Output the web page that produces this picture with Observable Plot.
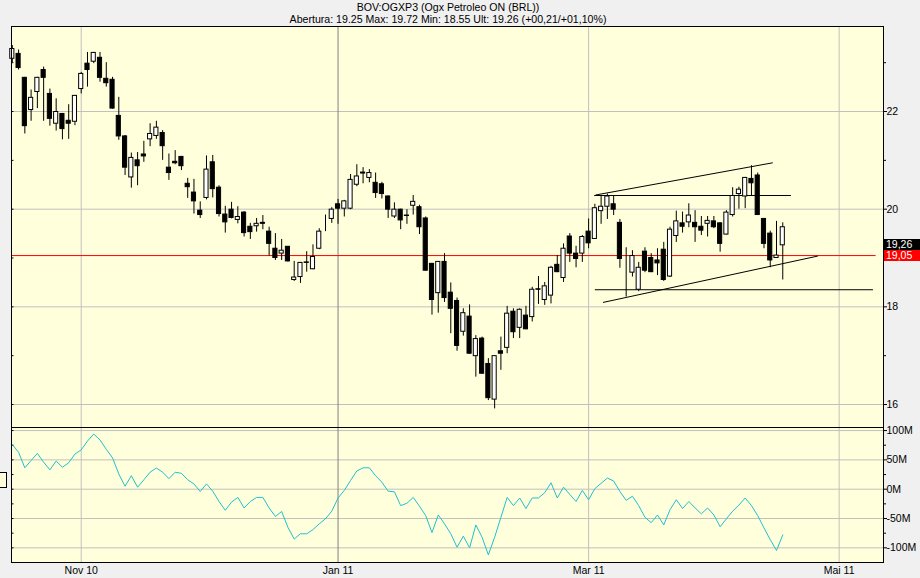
<!DOCTYPE html>
<html><head><meta charset="utf-8">
<script src="https://cdn.jsdelivr.net/npm/d3@7"></script>
<script src="https://cdn.jsdelivr.net/npm/@observablehq/plot@0.6"></script>
<style>
html,body{margin:0;padding:0;background:#f0f0f0;}
body{width:920px;height:578px;position:relative;overflow:hidden;font-family:"Liberation Sans",Arial,sans-serif;color:#000;}
.hdr{position:absolute;left:0;width:896px;text-align:center;font-size:10.6px;line-height:12px;white-space:nowrap;}
#upper{position:absolute;left:0;top:26px;}
#lower{position:absolute;left:0;top:427px;}
.pl{position:absolute;left:884px;width:36px;height:11px;font-size:10.5px;line-height:11px;color:#fff;padding-left:2px;box-sizing:border-box;}
#handle{position:absolute;left:-10px;top:472px;width:15px;height:14px;border:1px solid #000;background:#ffffdc;}
</style></head><body>
<div class="hdr" style="top:1px">BOV:OGXP3 (Ogx Petroleo ON (BRL))</div>
<div class="hdr" style="top:13px">Abertura: 19.25 Max: 19.72 Min: 18.55 Ult: 19.26 (+00,21/+01,10%)</div>
<div id="upper"></div>
<div id="lower"></div>
<div id="handle"></div>
<script>
// ---- data ----
const startDate = "2010-10-15";
const holidays = ["2010-11-02","2010-11-15","2010-12-24","2010-12-31","2011-01-25","2011-03-07","2011-03-08","2011-04-21","2011-04-22"];
const tickMonths = ["2010-11","2011-01","2011-03","2011-05"];
const tickLabels = ["Nov 10","Jan 11","Mar 11","Mai 11"];
const yearStartMonth = "2011-01";

const opens = [23.08,23.18,22.69,22.03,22.40,22.85,22.36,21.75,21.95,21.81,
 21.79,22.46,22.98,23.02,23.10,22.67,22.65,21.91,21.49,20.65,
 21.00,21.12,21.43,21.50,21.56,20.85,20.97,21.07,20.52,20.34,
 19.97,20.23,20.96,20.44,19.89,19.99,19.78,19.93,19.64,19.65,
 19.72,19.54,19.19,19.09,19.23,18.55,18.61,18.91,18.77,19.19,
 19.72,19.80,20.10,20.01,20.01,20.50,20.75,20.64,20.54,20.51,
 20.26,19.85,19.99,19.87,20.07,20.04,19.81,18.88,18.28,18.92,
 18.29,18.12,17.49,17.80,16.99,17.35,16.83,16.10,17.09,17.16,
 17.90,17.57,17.82,17.79,18.36,18.14,18.23,18.86,18.59,19.44,
 19.09,19.09,19.54,19.39,19.96,20.05,20.10,19.72,18.89,18.70,
 18.35,19.13,19.00,18.95,19.17,18.62,19.45,19.71,19.73,19.72,
 19.64,19.70,19.75,19.71,19.48,19.88,20.31,20.26,20.62,20.69,
 19.80,19.50,19.00,19.26];
const highs = [23.35,23.26,22.70,22.44,22.70,22.91,22.46,22.26,21.96,22.14,
 22.33,22.80,23.21,23.21,23.21,23.00,22.70,22.29,21.51,21.15,
 21.16,21.39,21.75,21.80,21.61,21.13,21.20,21.08,20.63,20.61,
 20.15,21.09,21.10,20.48,20.06,20.14,20.05,19.95,19.71,19.81,
 19.87,19.63,19.50,19.38,19.23,18.93,18.91,19.13,19.27,19.60,
 19.88,20.03,20.20,20.18,20.71,20.91,20.85,20.81,20.74,20.55,
 20.27,20.13,20.00,19.99,20.28,20.08,19.84,18.89,18.93,19.09,
 18.49,18.18,17.96,18.04,17.41,17.38,16.94,17.00,17.38,18.01,
 17.96,17.96,18.01,18.40,18.62,18.50,18.83,19.05,19.29,19.50,
 19.24,19.46,19.80,20.10,20.28,20.31,20.28,19.79,19.21,19.15,
 18.91,19.21,19.09,19.19,19.32,19.63,19.96,19.94,20.11,19.97,
 19.85,19.85,19.85,19.72,19.97,20.44,20.45,20.65,20.89,20.74,
 19.81,19.55,19.75,19.72];
const lows = [23.00,22.85,21.54,21.80,22.06,21.80,21.70,21.60,21.42,21.43,
 21.71,22.36,22.50,22.98,22.60,22.50,22.05,21.41,20.69,20.43,
 20.48,20.96,21.28,21.43,21.00,20.59,20.91,20.79,20.22,19.90,
 19.81,20.19,20.23,19.84,19.51,19.80,19.70,19.43,19.38,19.53,
 19.58,19.04,18.95,18.95,18.92,18.52,18.48,18.71,18.76,19.17,
 19.54,19.71,19.69,19.84,19.99,20.46,20.52,20.54,20.22,20.21,
 19.81,19.81,19.58,19.69,19.88,19.48,18.73,17.83,17.87,18.09,
 17.45,17.09,17.40,17.03,16.56,16.62,16.08,15.91,16.70,17.04,
 17.35,17.35,17.53,17.69,18.05,18.03,18.06,18.70,18.50,18.91,
 18.80,18.91,19.19,19.38,19.69,19.79,19.87,18.79,18.20,18.61,
 18.31,18.70,18.70,18.64,18.52,18.60,19.32,19.51,19.62,19.32,
 19.46,19.43,19.60,19.12,19.47,19.84,20.00,20.01,20.28,19.87,
 19.19,18.80,18.99,18.55];
const closes = [23.28,22.89,21.70,22.28,22.69,22.69,21.85,21.99,21.64,21.75,
 22.32,22.77,22.85,23.20,22.69,22.58,22.06,21.49,20.85,21.05,
 20.88,21.08,21.54,21.67,21.29,20.74,20.94,20.88,20.45,20.16,
 19.88,20.81,20.41,19.90,19.73,19.82,19.84,19.51,19.53,19.70,
 19.70,19.29,19.00,19.15,18.93,18.60,18.90,18.90,19.02,19.54,
 19.72,19.99,20.01,20.16,20.60,20.67,20.73,20.74,20.33,20.31,
 19.99,19.99,19.77,19.86,20.15,19.63,18.74,18.14,18.92,18.18,
 17.96,17.20,17.87,17.04,17.34,16.63,16.13,16.99,17.04,17.86,
 17.48,17.94,17.54,18.35,18.35,18.42,18.80,18.71,19.19,19.09,
 18.98,19.43,19.30,20.02,20.05,20.26,19.99,18.98,18.89,19.04,
 18.80,18.74,18.71,18.89,18.55,19.58,19.75,19.64,19.87,19.63,
 19.56,19.76,19.63,19.29,19.93,20.27,20.40,20.64,20.53,19.88,
 19.29,18.95,19.05,19.63];
// lower indicator (millions)
const flow = [76,63,36.5,49,61,46,33,48,37.5,45,
 60,67,82,94,84,68,53.5,26,5,23,
 3.4,16,29,36,29,18,29,27,16,9,
 -4,9,-3.4,-21,-36,-22,-14,-32,-21,-14,
 -14,-32,-46.5,-38,-65,-85,-76,-76,-69,-59,
 -50.5,-37.5,-15,-2,15,31,36.5,36.5,23,12,
 -3.4,-4.4,-28,-24,-14,-29,-45,-74,-44,-59,
 -76,-99,-80,-100,-61,-82,-112,-82,-48,-14,
 -28,-15,-33,-15,-15,-6,11,-15,3.4,-9,
 -21,-2,-18,1,10,19,14,-4,-19,-12,
 -28,-48,-57,-44,-61,-35,-18,-33,-21,-32,
 -42,-32,-44,-64,-50.5,-37.5,-27,-15,-28,-45,
 -66,-86,-104.5,-78];
// drawn trend lines (trading-day index, price)
const trendX1 = [93.1, 92.9, 94.3, 93.0];
const trendY1 = [20.29, 20.28, 18.09, 18.35];
const trendX2 = [121.4, 124.3, 128.6, 137.4];
const trendY2 = [20.95, 20.28, 19.04, 18.35];
const lastPrice = 19.26;
const prevClose = 19.05;
const prevCloseEnd = 137.9;
const priceTicks = [16, 18, 20, 22];
const priceMinor = [17, 19, 21, 23];
const flowTicks = [-100, -50, 0, 50, 100];
const flowMinor = [-75, -25, 25, 75];

// ---- derived ----
const fmt = d3.utcFormat("%Y-%m-%d");
const dates = [];
for (let t = new Date(startDate + "T00:00:00Z"); dates.length < 145; t = new Date(t.getTime() + 864e5)) {
  const wd = t.getUTCDay(), s = fmt(t);
  if (wd !== 0 && wd !== 6 && !holidays.includes(s)) dates.push(s);
}
const ticks = tickMonths.map((m, k) => ({i: dates.findIndex(d => d.startsWith(m)), label: tickLabels[k], dark: m === yearStartMonth}));
const tickLabelByIdx = new Map(ticks.map(t => [t.i, t.label]));

const candles = opens.map((o, i) => ({i, o, h: highs[i], l: lows[i], c: closes[i]}));
const flowData = flow.map((v, i) => ({i, v}));
const trends = trendX1.map((x, k) => ({x1: x, y1: trendY1[k], x2: trendX2[k], y2: trendY2[k]}));

const X_DOMAIN = [-0.13, 139.08];
const cream = "#ffffdc";
const grid = "#c0c0c0";
const font = {fontFamily: "Liberation Sans, Arial, sans-serif", fontSize: "10.5px", background: "transparent", overflow: "visible", color: "black"};

const upper = Plot.plot({
  width: 920, height: 401,
  marginLeft: 11, marginRight: 37, marginTop: 0, marginBottom: 0,
  x: {domain: X_DOMAIN, axis: null},
  y: {domain: [15.529, 23.741], axis: null},
  color: {type: "identity"},
  style: font,
  marks: [
    Plot.frame({fill: cream, stroke: "none"}),
    Plot.ruleY(priceTicks, {stroke: grid}),
    Plot.ruleX(ticks, {x: "i", stroke: d => d.dark ? "#808080" : grid}),
    Plot.ruleY(priceTicks.concat(priceMinor), {x1: X_DOMAIN[0], x2: X_DOMAIN[0] + 0.4, stroke: "black"}),
    Plot.ruleY([prevClose], {x1: X_DOMAIN[0], x2: prevCloseEnd, stroke: "#ff0000"}),
    Plot.link(trends, {x1: "x1", y1: "y1", x2: "x2", y2: "y2", stroke: "black"}),
    Plot.ruleX(candles, {x: "i", y1: "l", y2: "h", stroke: "black"}),
    Plot.rect(candles, {x1: d => d.i - 0.33, x2: d => d.i + 0.33, y1: "o", y2: "c", fill: d => d.c >= d.o ? "white" : "black", stroke: "black"}),
    Plot.axisY({anchor: "right", ticks: priceTicks, tickSize: 3, tickPadding: 0, tickFormat: d => String(d), label: null}),
    Plot.axisY({anchor: "right", ticks: priceMinor, tickSize: 2, tickFormat: () => "", label: null}),
    Plot.frame({stroke: "black"})
  ]
});
document.getElementById("upper").append(upper);

const lower = Plot.plot({
  width: 920, height: 151,
  marginLeft: 11, marginRight: 37, marginTop: 0, marginBottom: 16,
  x: {domain: X_DOMAIN, axis: null},
  y: {domain: [-125, 105.2], axis: null},
  color: {type: "identity"},
  style: font,
  marks: [
    Plot.frame({fill: cream, stroke: "none"}),
    Plot.ruleY(flowTicks, {stroke: grid}),
    Plot.ruleX(ticks, {x: "i", stroke: d => d.dark ? "#808080" : grid}),
    Plot.ruleY(flowTicks.concat(flowMinor), {x1: X_DOMAIN[0], x2: X_DOMAIN[0] + 0.4, stroke: "black"}),
    Plot.line(flowData, {x: "i", y: "v", stroke: "#20c0d0", strokeWidth: 1}),
    Plot.axisY({anchor: "right", ticks: flowTicks, tickSize: 3, tickPadding: 0, tickFormat: d => `${d}M`, label: null}),
    Plot.axisY({anchor: "right", ticks: flowMinor, tickSize: 2, tickFormat: () => "", label: null}),
    Plot.axisX({anchor: "bottom", ticks: ticks.map(t => t.i), tickSize: 0, tickPadding: 4, tickFormat: i => tickLabelByIdx.get(i), label: null}),
    Plot.frame({stroke: "black"})
  ]
});
document.getElementById("lower").append(lower);

// price tags on the right axis, positioned with the plot's own y scale
const ys = upper.scale("y");
[[lastPrice, "#000"], [prevClose, "#ff0000"]].forEach(([v, bg]) => {
  const el = document.createElement("div");
  el.className = "pl";
  el.style.background = bg;
  el.style.top = (26 + ys.apply(v) - 5.5) + "px";
  el.textContent = d3.format(".2f")(v).replace(".", ",");
  document.body.append(el);
});
</script>
</body></html>
